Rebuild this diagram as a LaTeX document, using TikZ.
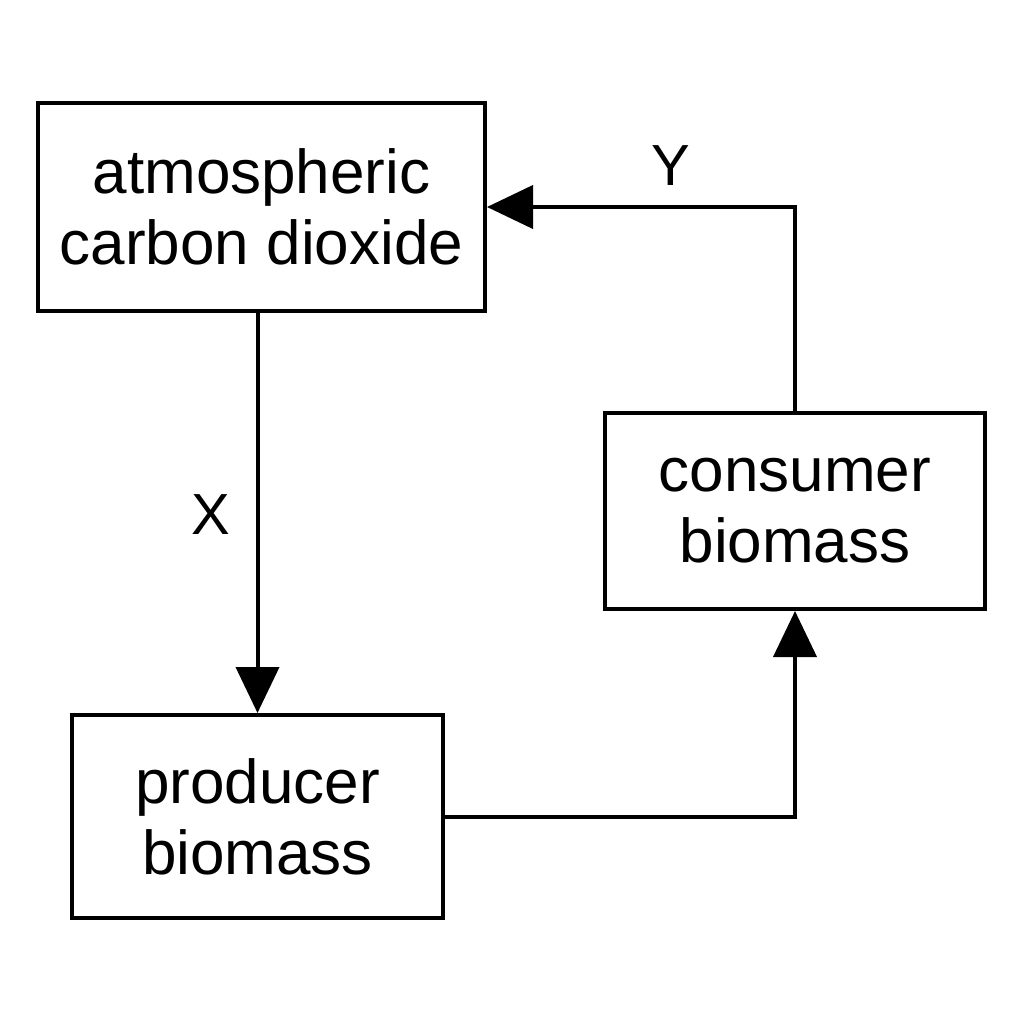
\documentclass[tikz,border=0pt]{standalone}
\usepackage{fontspec}
\setmainfont{Liberation Sans}
\usetikzlibrary{arrows.meta}
\begin{document}
\begin{tikzpicture}[x=1pt,y=-1pt,
  box/.style={draw=black,line width=4pt,align=center,inner sep=0pt,
    font=\fontsize{62}{71}\selectfont},
  flow/.style={line width=4pt,-{Triangle[length=46pt,width=43pt]}},
  lbl/.style={font=\fontsize{58}{66}\selectfont}]
\useasboundingbox (0,0) rectangle (1024,1024);
\node[box,minimum width=447pt,minimum height=208pt] (atm) at (261.5,207) {atmospheric\\carbon dioxide};
\node[box,minimum width=380pt,minimum height=196pt] (cons) at (795,511) {consumer\\biomass};
\node[box,minimum width=371pt,minimum height=203pt] (prod) at (257.5,816.5) {producer\\biomass};
\draw[flow] (atm.south -| prod.north) -- (prod.north);
\draw[flow] (prod.east) -| (cons.south);
\draw[flow] (cons.north) |- (atm.east);
\node[lbl] (x) at (211,515) {X};
\node[lbl] (y) at (671,166) {Y};
\end{tikzpicture}
\end{document}
